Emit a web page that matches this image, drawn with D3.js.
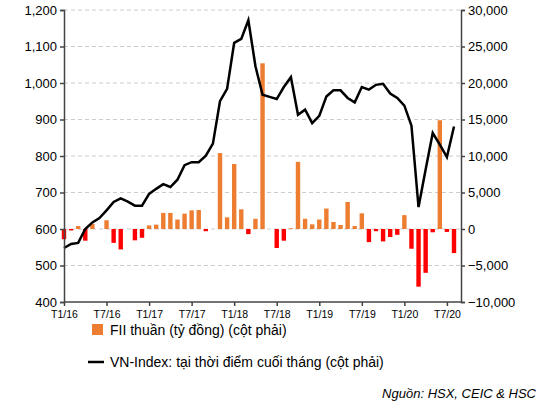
<!DOCTYPE html>
<html><head><meta charset="utf-8">
<script src="https://cdn.jsdelivr.net/npm/d3@7"></script>
<style>body{margin:0;background:#fff}text{font-family:"Liberation Sans",Arial,sans-serif}</style>
</head><body><div id="chart"></div>
<script>
// months Jan 2016 .. Aug 2020
var months = d3.range(56).map(function(i){ return "T" + (i % 12 + 1) + "/" + (16 + Math.floor(i / 12)); });
var fii = [-1400,-200,400,-1600,700,0,1200,-1900,-2800,0,-1550,-1200,500,600,2200,2200,1300,2100,2550,2600,-300,0,10400,1600,8900,2700,-700,1400,22700,
  0,-2600,-1600,100,9200,1400,640,1300,2800,960,550,3700,400,2150,-1800,-300,-1700,-1100,-800,1900,-2700,-7900,-6000,-450,14900,-400,-3300];
var vni = [548,559,562,600,618,630,651,674,684,675,664,664,696,710,723,715,735,775,783,783,801,834,950,984,1110,1121,1172,1046,968,
  962,956,989,1016,913,927,890,910,963,980,980,959,947,989,982,995,998,971,959,938,883,660,763,863,831,797,881];
var leftTicks = [400,500,600,700,800,900,1000,1100,1200];
var rightTicks = [-10000,-5000,0,5000,10000,15000,20000,25000,30000];
var xTicks = months.filter(function(d, i){ return i % 6 === 0; });

var svg = d3.select("#chart").append("svg").attr("width", 553).attr("height", 414);
var x = d3.scalePoint().domain(months).range([64, 454]);
var yL = d3.scaleLinear().domain([400, 1200]).range([302, 10]);
var yR = d3.scaleLinear().domain([-10000, 30000]).range([302, 10]);

// grid
svg.selectAll(".grid").data(leftTicks.slice(1)).enter().append("line")
  .attr("x1", 64).attr("x2", 461).attr("y1", yL).attr("y2", yL)
  .attr("stroke", "#ccc").attr("stroke-dasharray", "4,3");

// bars
svg.selectAll(".bar").data(fii).enter().append("rect")
  .attr("x", function(d, i){ return x(months[i]) - 2.2; })
  .attr("width", 4.4)
  .attr("y", function(d){ return yR(Math.max(0, d)); })
  .attr("height", function(d){ return Math.abs(yR(d) - yR(0)); })
  .attr("fill", function(d){ return d >= 0 ? "#ed7d31" : "#ff0000"; });

// line
svg.append("path").datum(vni)
  .attr("d", d3.line().x(function(d, i){ return x(months[i]); }).y(function(d){ return yL(d); }))
  .attr("fill", "none").attr("stroke", "#000").attr("stroke-width", 2.5);

// axes
var gl = svg.append("g").attr("transform", "translate(64,0)")
  .call(d3.axisLeft(yL).tickValues(leftTicks).tickFormat(d3.format(",")).tickSize(4));
var gr = svg.append("g").attr("transform", "translate(461,0)")
  .call(d3.axisRight(yR).tickValues(rightTicks).tickFormat(d3.format(",")).tickSize(4));
var gx = svg.append("g").attr("transform", "translate(0,302)")
  .call(d3.axisBottom(x).tickValues(xTicks).tickSize(4).tickSizeOuter(0));
gx.select(".domain").attr("d", "M64,0H461");
[gl, gr, gx].forEach(function(g){
  g.selectAll("path,line").attr("stroke", "#444").attr("stroke-width", 1.5);
  g.selectAll("text").attr("fill", "#000").style("font-family", "Liberation Sans, Arial, sans-serif");
});
gl.selectAll("text").style("font-size", "13px");
gr.selectAll("text").style("font-size", "13px");
gx.selectAll("text").style("font-size", "10.5px").attr("dy", "0.9em");

// legend
svg.append("rect").attr("x", 92).attr("y", 324).attr("width", 11).attr("height", 11).attr("fill", "#ed7d31");
svg.append("text").attr("x", 110).attr("y", 335).style("font-size", "14px").text("FII thuần (tỷ đồng) (cột phải)");
svg.append("line").attr("x1", 88).attr("x2", 104).attr("y1", 362).attr("y2", 362).attr("stroke", "#000").attr("stroke-width", 2.5);
svg.append("text").attr("x", 110).attr("y", 367).style("font-size", "14px").text("VN-Index: tại thời điểm cuối tháng (cột phải)");
svg.append("text").attr("x", 536).attr("y", 398).attr("text-anchor", "end")
  .style("font-size", "13px").style("font-style", "italic").text("Nguồn: HSX, CEIC & HSC");
</script></body></html>
